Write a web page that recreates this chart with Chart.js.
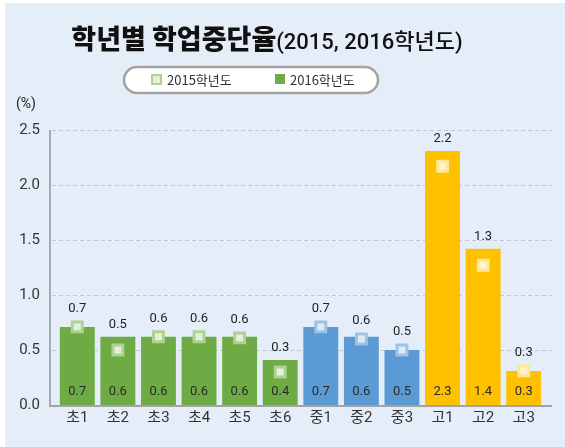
<!DOCTYPE html>
<html><head><meta charset="utf-8">
<script src="https://cdn.jsdelivr.net/npm/chart.js@4"></script>
<style>html,body{margin:0;padding:0;background:#fff}canvas{display:block}</style>
</head><body>
<canvas id="c" width="565" height="447"></canvas>
<script>
const categories = ['초1','초2','초3','초4','초5','초6','중1','중2','중3','고1','고2','고3'];
const rate2016 = [0.71,0.62,0.62,0.62,0.62,0.41,0.71,0.62,0.50,2.31,1.42,0.31];
const rate2015 = [0.71,0.50,0.62,0.62,0.61,0.30,0.71,0.60,0.50,2.17,1.27,0.31];
const groups = [0,0,0,0,0,0,1,1,1,2,2,2];
const yTicks = [0,0.5,1.0,1.5,2.0,2.5];
const titleMain = '학년별 학업중단율';
const titleSub = '(2015, 2016학년도)';
const seriesNames = ['2015학년도','2016학년도'];

const barColors = ['#6fab45','#5b9bd5','#ffc000'];
const markFill = ['#e3f0da','#deebf7','#fff3cc'];
const markBorder = ['#acd392','#9dc3e6','#ffe699'];
const KR = '"Noto Sans CJK KR", sans-serif';
const NUM = 'Roboto, "Noto Sans CJK KR", sans-serif';

const decor = {
  id:'decor',
  beforeDraw(chart){
    const {ctx,width,height} = chart;
    ctx.save();
    ctx.fillStyle='#ffffff'; ctx.fillRect(0,0,width,height);
    ctx.fillStyle='#e5eef8'; ctx.fillRect(5,3,width-5,height-3);
    // title
    ctx.fillStyle='#111';
    ctx.textBaseline='alphabetic';
    ctx.font='900 27px '+KR;
    const w1=ctx.measureText(titleMain).width;
    ctx.font='500 22px '+NUM;
    const w2=ctx.measureText(titleSub).width;
    let x0=267-(w1+w2)/2;
    ctx.font='900 27px '+KR; ctx.textAlign='left';
    ctx.fillText(titleMain,x0,49);
    ctx.font='500 22px '+NUM;
    ctx.fillText(titleSub,x0+w1,49);
    // legend pill
    const lx=124,ly=67,lw=254,lh=26,r=13;
    ctx.beginPath();
    ctx.moveTo(lx+r,ly); ctx.lineTo(lx+lw-r,ly); ctx.arc(lx+lw-r,ly+r,r,-Math.PI/2,Math.PI/2);
    ctx.lineTo(lx+r,ly+lh); ctx.arc(lx+r,ly+r,r,Math.PI/2,Math.PI*1.5); ctx.closePath();
    ctx.fillStyle='#fff'; ctx.fill();
    ctx.lineWidth=2.5; ctx.strokeStyle='#a3a3a3'; ctx.stroke();
    // legend items
    ctx.lineWidth=2;
    ctx.fillStyle=markFill[0]; ctx.strokeStyle=markBorder[0];
    ctx.fillRect(152,75,9,9); ctx.strokeRect(152,75,9,9);
    ctx.fillStyle=barColors[0]; ctx.fillRect(275,74,10,10);
    ctx.fillStyle='#333'; ctx.font='400 13px '+KR; ctx.textBaseline='middle';
    ctx.fillText(seriesNames[0],167,80);
    ctx.fillText(seriesNames[1],290,80);
    // unit
    ctx.font='400 14px '+NUM; ctx.fillStyle='#222';
    ctx.fillText('(%)',16,104);
    // grid
    const y=chart.scales.y;
    ctx.strokeStyle='#c3c9d1'; ctx.lineWidth=1; ctx.setLineDash([4,3]);
    y.ticks.forEach(t=>{
      if(t.value===0) return;
      const py=Math.round(y.getPixelForValue(t.value))+0.5;
      ctx.beginPath(); ctx.moveTo(52,py); ctx.lineTo(552,py); ctx.stroke();
    });
    ctx.setLineDash([]);
    // axes
    ctx.strokeStyle='#a7abb0'; ctx.lineWidth=2;
    const top=y.getPixelForValue(2.5), bot=y.getPixelForValue(0);
    ctx.beginPath(); ctx.moveTo(50,top); ctx.lineTo(50,bot+1); ctx.stroke();
    ctx.restore();
  },
  afterDatasetsDraw(chart){
    const {ctx}=chart;
    const y=chart.scales.y;
    ctx.save();
    ctx.strokeStyle='#a0a4a9'; ctx.lineWidth=2;
    const bot=y.getPixelForValue(0);
    ctx.beginPath(); ctx.moveTo(49,bot+1); ctx.lineTo(552,bot+1); ctx.stroke();
    const bars=chart.getDatasetMeta(0).data, pts=chart.getDatasetMeta(1).data;
    ctx.textAlign='center'; ctx.textBaseline='middle';
    ctx.font='400 13px '+NUM;
    bars.forEach((b,i)=>{
      const ty=Math.min(b.y-12, pts[i].y-18.5);
      ctx.fillStyle='#222';
      ctx.fillText(rate2015[i].toFixed(1), b.x, ty);
      ctx.fillStyle='#2a2a2a';
      ctx.fillText(rate2016[i].toFixed(1), b.x, bot-13);
    });
    ctx.restore();
  }
};

new Chart(document.getElementById('c'),{
  data:{
    labels:categories,
    datasets:[
      {type:'bar',label:seriesNames[1],data:rate2016,order:2,
       backgroundColor:groups.map(g=>barColors[g]),
       barPercentage:0.86,categoryPercentage:1},
      {type:'line',label:seriesNames[0],data:rate2015,order:1,showLine:false,
       pointStyle:'rect',pointRadius:7,pointBorderWidth:3,
       pointBackgroundColor:groups.map(g=>markFill[g]),
       pointBorderColor:groups.map(g=>markBorder[g])}
    ]
  },
  options:{
    responsive:false,animation:false,devicePixelRatio:1,
    layout:{padding:{top:130,right:21,left:0,bottom:0}},
    plugins:{legend:{display:false},tooltip:{enabled:false},title:{display:false}},
    scales:{
      x:{grid:{display:false,drawTicks:false},border:{display:false},
         ticks:{font:{size:15,family:NUM},color:'#333',padding:4},
         afterFit(s){s.height=42;}},
      y:{min:0,max:2.5,
         grid:{display:false,drawTicks:false},border:{display:false},
         afterBuildTicks(s){s.ticks=yTicks.map(v=>({value:v}));},
         ticks:{font:{size:15,family:NUM},color:'#333',padding:17,
                callback:v=>Number(v).toFixed(1)},
         afterFit(s){s.width=57;}}
    }
  },
  plugins:[decor]
});
</script>
</body></html>
